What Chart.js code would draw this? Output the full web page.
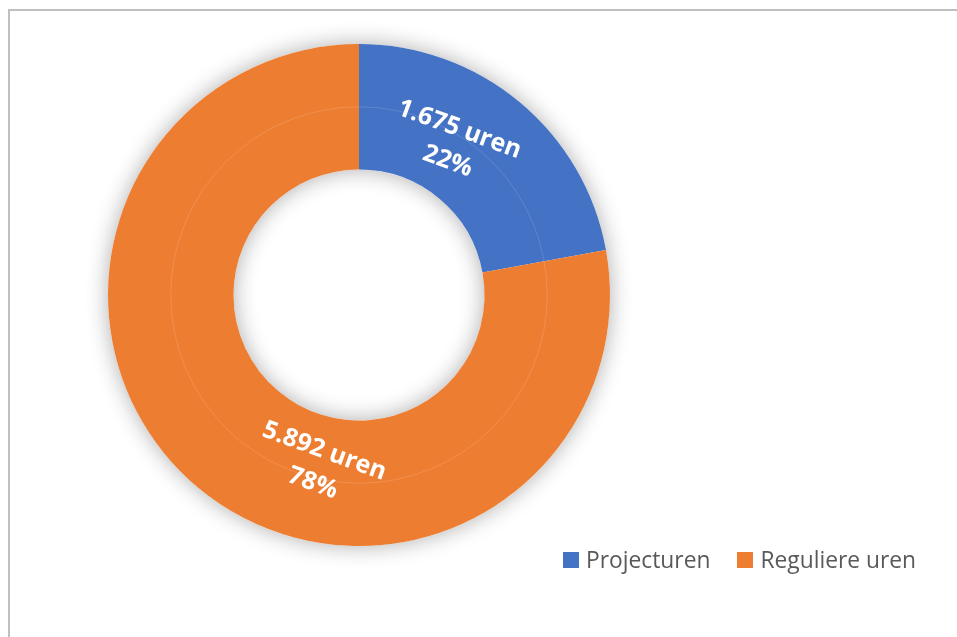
<!DOCTYPE html>
<html>
<head>
<meta charset="utf-8">
<script src="https://cdn.jsdelivr.net/npm/chart.js@4/dist/chart.umd.min.js"></script>
<style>
  html, body { margin: 0; padding: 0; background: #fff; overflow: hidden; }
  #frame {
    position: absolute; left: 8px; top: 9px; width: 1000px; height: 1000px;
    border-top: 2px solid #bfbfbf; border-left: 2px solid #bfbfbf;
  }
  #wrap { position: absolute; left: 0; top: 0; width: 957px; height: 637px; }
  #legend {
    position: absolute; left: 563px; top: 544px;
    display: flex; align-items: center;
    font-family: "Open Sans", sans-serif; font-size: 22.8px; color: #595959;
  }
  #legend .item { display: flex; align-items: center; margin-right: 27px; }
  #legend .box { width: 16px; height: 16px; margin-right: 7px; margin-top: 1px; }
</style>
</head>
<body>
<div id="frame"></div>
<div id="wrap"><canvas id="chart" width="957" height="637"></canvas></div>
<div id="legend"></div>
<script>
  var categories = ["Projecturen", "Reguliere uren"];
  var hours = [1675, 5892];
  var hourLabels = ["1.675 uren", "5.892 uren"];
  var pctLabels = ["22%", "78%"];
  var colors = ["#4472C4", "#ED7D31"];

  // zachte schaduw achter de hele ring
  var ringShadow = {
    id: "ringShadow",
    beforeDatasetsDraw: function (chart) {
      var arc = chart.getDatasetMeta(0).data[0];
      if (!arc) return;
      var p = arc.getProps(["x", "y", "innerRadius", "outerRadius"], true);
      var ctx = chart.ctx;
      ctx.save();
      ctx.shadowColor = "rgba(0,0,0,0.32)";
      ctx.shadowBlur = 22;
      ctx.fillStyle = "#ffffff";
      ctx.beginPath();
      ctx.arc(p.x, p.y, p.outerRadius, 0, Math.PI * 2);
      ctx.arc(p.x, p.y, p.innerRadius, 0, Math.PI * 2, true);
      ctx.fill();
      ctx.restore();
    },
    afterDatasetsDraw: function (chart) {
      var meta = chart.getDatasetMeta(0);
      var ctx = chart.ctx;
      var first = meta.data[0].getProps(["x", "y", "innerRadius", "outerRadius"], true);
      // dunne lichte lijn halverwege de ring
      ctx.save();
      ctx.strokeStyle = "rgba(255,255,255,0.14)";
      ctx.lineWidth = 1;
      ctx.beginPath();
      ctx.arc(first.x, first.y, (first.innerRadius + first.outerRadius) / 2, 0, Math.PI * 2);
      ctx.stroke();
      ctx.restore();

      // labels, gedraaid zoals in het origineel
      meta.data.forEach(function (el, i) {
        var p = el.getProps(["x", "y", "startAngle", "endAngle", "innerRadius", "outerRadius"], true);
        var a = p.startAngle + 0.405 * (p.endAngle - p.startAngle);
        var r = p.innerRadius + 0.41 * (p.outerRadius - p.innerRadius);
        ctx.save();
        ctx.translate(p.x + Math.cos(a) * r, p.y + Math.sin(a) * r);
        ctx.rotate(20 * Math.PI / 180);
        ctx.fillStyle = "#ffffff";
        ctx.font = "bold 25px 'Open Sans', sans-serif";
        ctx.textAlign = "center";
        ctx.textBaseline = "middle";
        ctx.fillText(hourLabels[i], 0, -17);
        ctx.fillText(pctLabels[i], 0, 17);
        ctx.restore();
      });
    },
  };

  new Chart(document.getElementById("chart"), {
    type: "doughnut",
    data: {
      labels: categories,
      datasets: [
        {
          data: hours,
          backgroundColor: colors,
          borderWidth: 0,
        },
      ],
    },
    options: {
      responsive: false,
      animation: false,
      cutout: "50%",
      layout: { padding: { left: 108, right: 347, top: 44, bottom: 91 } },
      plugins: {
        legend: { display: false },
        tooltip: { enabled: false },
      },
    },
    plugins: [ringShadow],
  });

  var legendEl = document.getElementById("legend");
  categories.forEach(function (c, i) {
    var item = document.createElement("div");
    item.className = "item";
    item.innerHTML = '<span class="box" style="background:' + colors[i] + '"></span><span>' + c + "</span>";
    legendEl.appendChild(item);
  });
</script>
</body>
</html>
